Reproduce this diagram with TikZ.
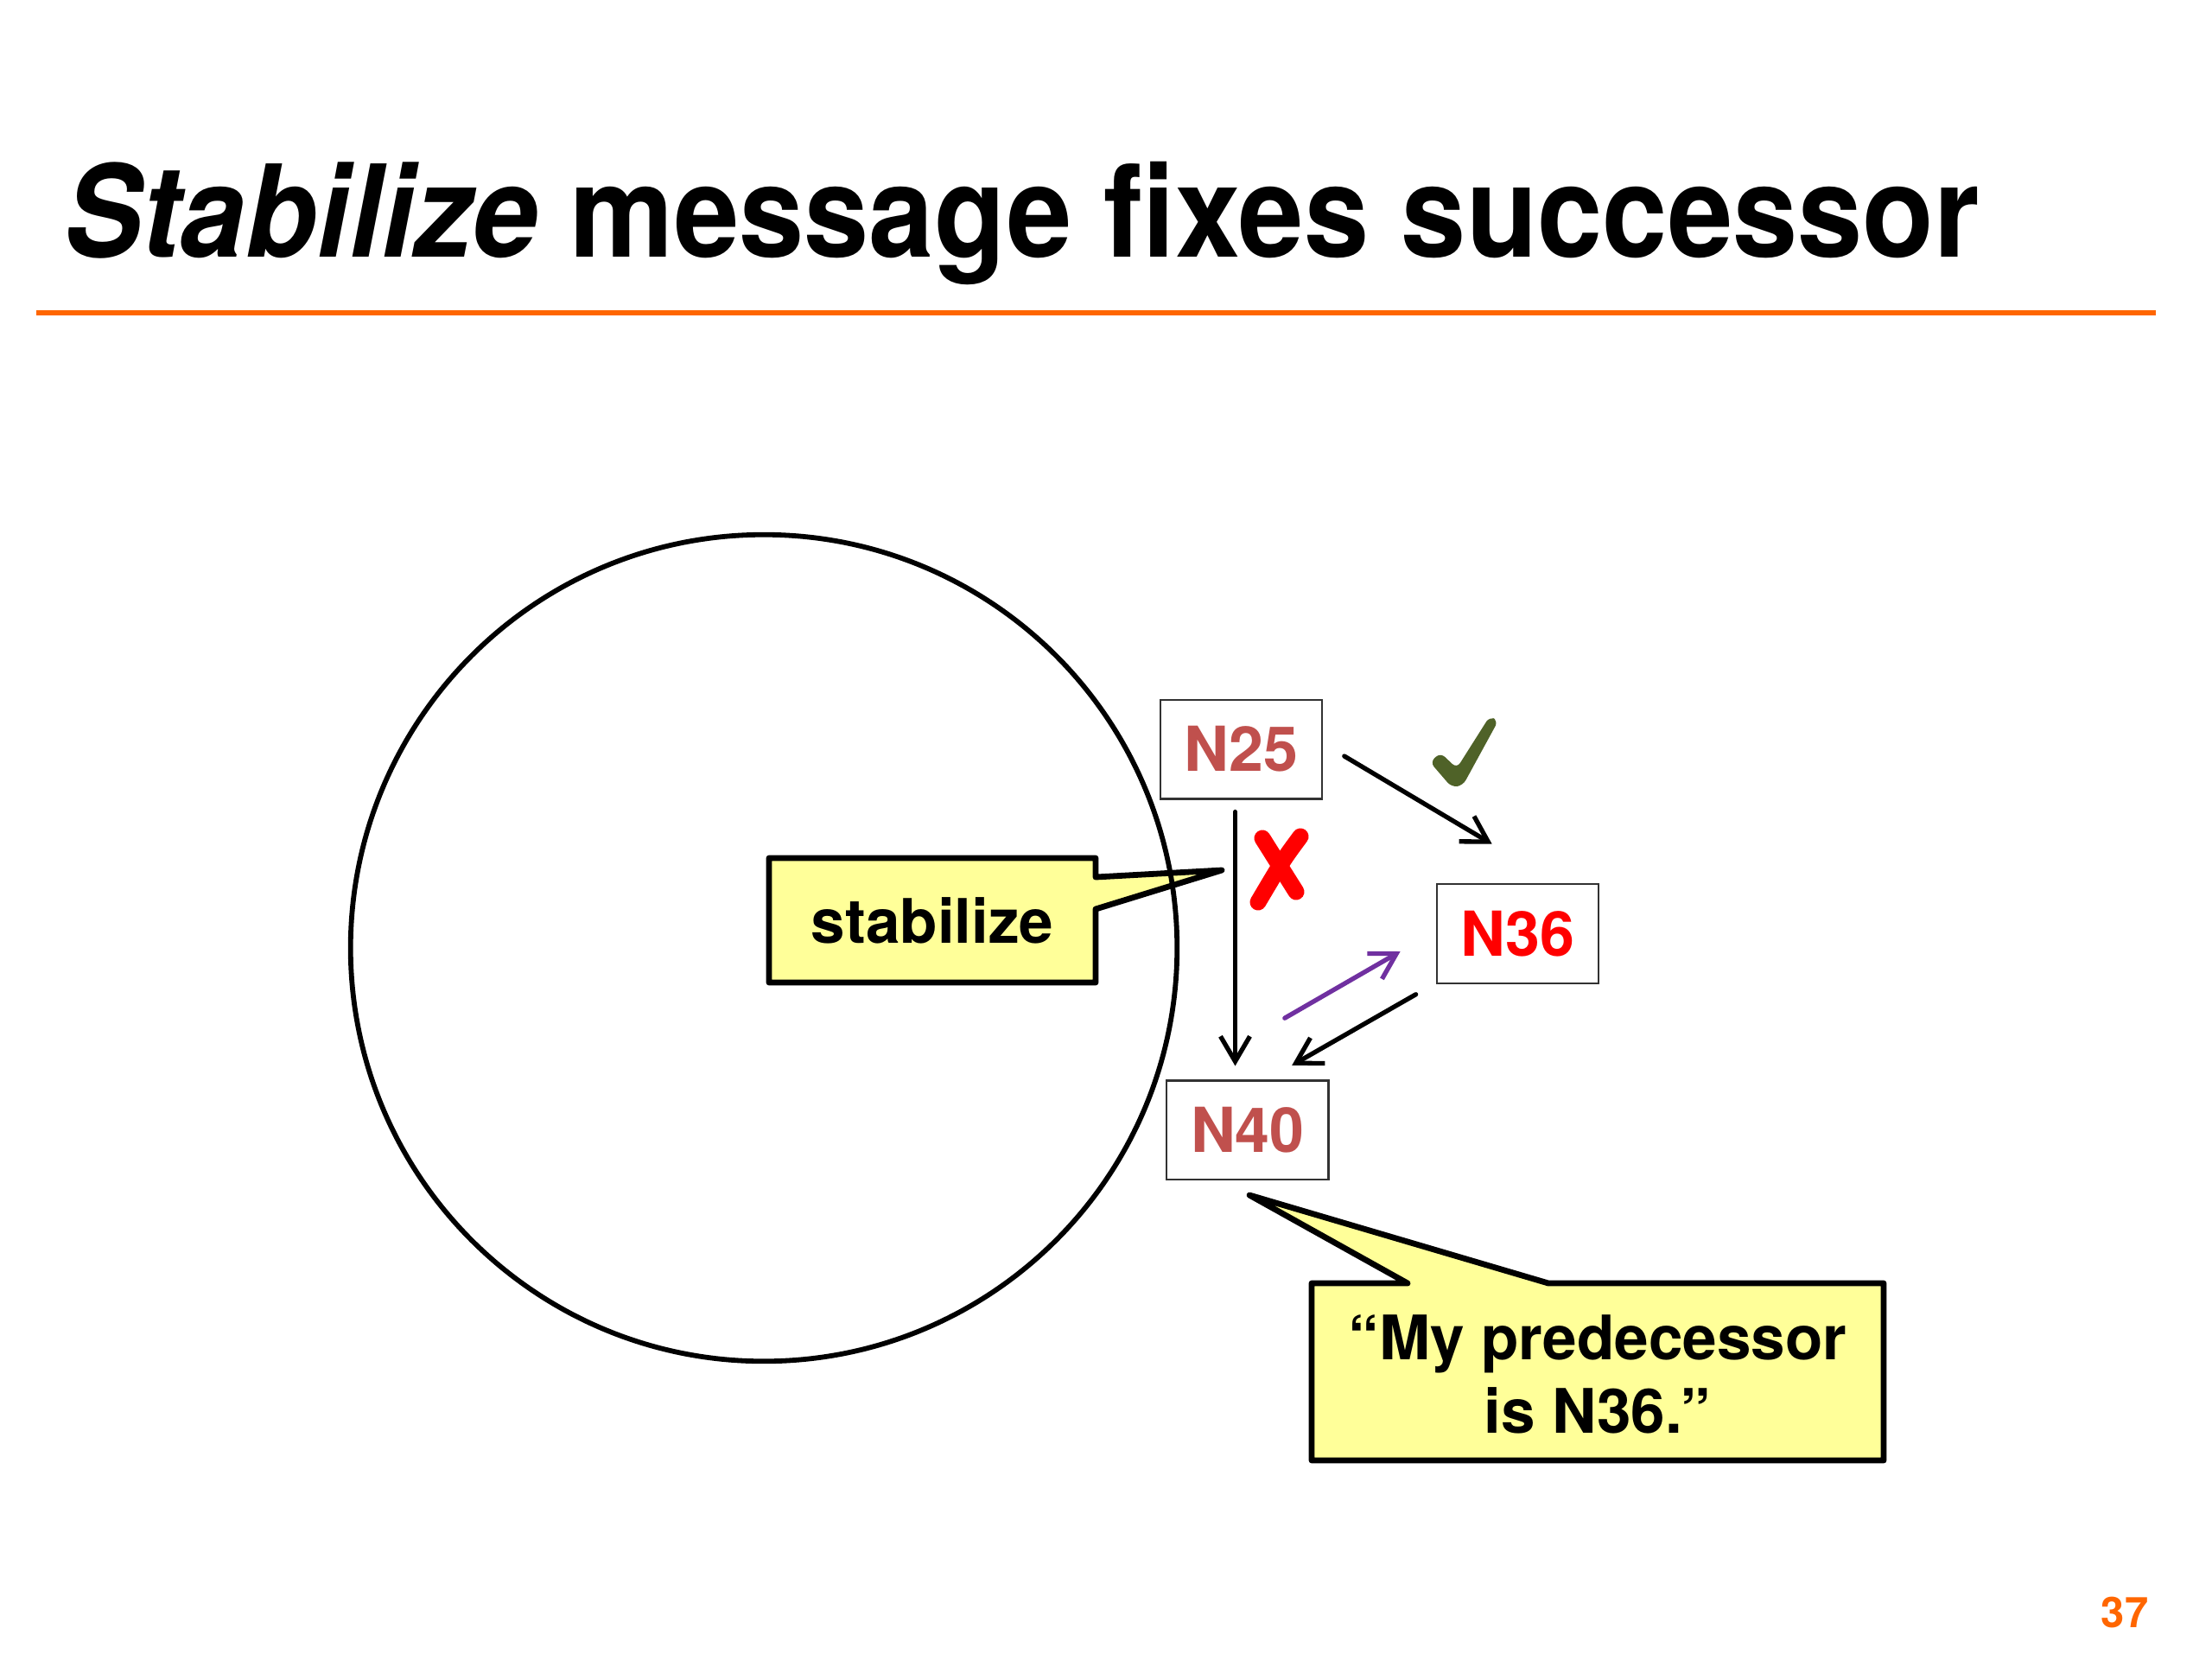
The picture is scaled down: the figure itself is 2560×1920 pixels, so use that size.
\documentclass[tikz,border=0pt]{standalone}
\usepackage{fontspec}
\setmainfont{TeX Gyre Heros}
\usetikzlibrary{arrows.meta,calc}
\definecolor{ttlorange}{RGB}{255,102,0}
\definecolor{nbrown}{RGB}{192,80,77}
\definecolor{nred}{RGB}{255,0,0}
\definecolor{chkgreen}{RGB}{79,98,40}
\definecolor{purp}{RGB}{112,48,160}
\definecolor{callyellow}{RGB}{255,255,153}
\definecolor{boxgray}{RGB}{50,50,50}
\begin{document}
\begin{tikzpicture}[x=0.01cm,y=-0.01cm,
  nbox/.style={draw=boxgray, line width=0.7pt, fill=white, minimum width=1.87cm, minimum height=1.145cm, inner sep=0pt, font=\fontsize{20.4pt}{24pt}\selectfont\bfseries},
  arr/.style={-{Straight Barb[length=0.29cm,width=0.34cm]}, line width=0.053cm, line cap=round, line join=round},
  callout/.style={draw=black, fill=callyellow, line width=0.068cm, line join=round},
  bodytext/.style={font=\fontsize{20.2pt}{24.2pt}\selectfont\bfseries, inner sep=0pt}
]
\useasboundingbox[fill=white] (0,0) rectangle (2560,1920);

% title and rule
\node[anchor=base west, inner sep=0pt] (title) at (74,297)
  {\resizebox{22.15cm}{\height}{\fontsize{42.1pt}{50pt}\selectfont\bfseries\textit{Stabilize} message fixes successor}};
\draw[ttlorange, line width=0.055cm] (42,362) -- (2495,362);

% stabilize callout (under the ring)
\draw[callout] (890,993) -- (1268,993) -- (1268,1015) -- (1414,1007) -- (1268,1052) -- (1268,1137) -- (890,1137) -- cycle;
\node[bodytext] (stab) at (1079,1065) {stabilize};

% ring
\draw[line width=0.058cm] (884,1097) circle[radius=4.78cm];

% nodes
\node[nbox, text=nbrown] (N25) at (1436.5,867) {N25};
\node[nbox, text=nred] (N36) at (1756.4,1080.5) {N36};
\node[nbox, text=nbrown] (N40) at (1443.8,1307.8) {N40};

% connectors
\draw[arr] ($(N25.south)+(-7,14)$) -- ($(N40.north)+(-14.3,-15.8)$);
\draw[arr] ($(N25.east)+(24.5,8)$) -- ($(N36.north)+(-29.7,-45.3)$);
\draw[arr, purp] ($(N40.north)+(43,-71.1)$) -- ($(N36.west)+(-41,20.5)$);
\draw[arr] ($(N36.south west)+(-23,11.7)$) -- ($(N40.north)+(51.4,-16.5)$);

% red cross
\draw[nred, line width=0.19cm, line cap=round] (1461,970) -- (1500,1032);
\draw[nred, line width=0.19cm, line cap=round] (1505,968) .. controls (1485,995) .. (1456,1044);

% green check
\fill[chkgreen, rounded corners=2pt] (1655,882) -- (1667,871) -- (1686,889) -- (1724,829) -- (1734,834) -- (1693,909) -- (1680,911) -- cycle;

% predecessor callout
\draw[callout] (1518,1485) -- (1629,1485) -- (1446,1383) -- (1792,1485) -- (2180,1485) -- (2180,1690) -- (1518,1690) -- cycle;
\node[bodytext, align=center] (pred) at (1849,1590) {“My predecessor\\is N36.”};

% page number
\node[anchor=base east, inner sep=0pt, text=ttlorange, font=\fontsize{13.9pt}{16pt}\selectfont\bfseries] (pg) at (2487,1883) {37};
\end{tikzpicture}
\end{document}
